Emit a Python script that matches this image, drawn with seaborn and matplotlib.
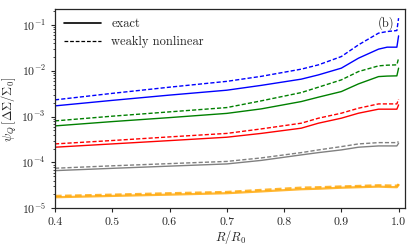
import numpy as np
import pandas as pd
import matplotlib
matplotlib.use("Agg")
import matplotlib.pyplot as plt
import seaborn as sns
from matplotlib.lines import Line2D

sns.set_style("ticks")
plt.rcParams["font.family"] = "serif"
plt.rcParams["font.serif"] = ["cmr10", "DejaVu Serif"]
plt.rcParams["mathtext.fontset"] = "cm"
plt.rcParams["axes.formatter.use_mathtext"] = True
plt.rcParams["axes.unicode_minus"] = False

r = [0.40, 0.50, 0.60, 0.70, 0.76, 0.83, 0.86, 0.90, 0.93, 0.965, 0.98, 0.997, 1.0]

# log10 of psi_Q values
blue_exact = [-2.766, -2.646, -2.531, -2.424, -2.319, -2.183, -2.090, -1.943, -1.725, -1.528, -1.485, -1.485, -1.238]
blue_weak = [-2.635, -2.493, -2.358, -2.231, -2.122, -1.965, -1.871, -1.690, -1.434, -1.179, -1.144, -1.122, -0.852]
green_exact = [-3.203, -3.109, -3.022, -2.930, -2.832, -2.672, -2.576, -2.454, -2.286, -2.127, -2.116, -2.111, -1.943]
green_weak = [-3.094, -2.991, -2.897, -2.803, -2.657, -2.476, -2.358, -2.199, -2.017, -1.893, -1.878, -1.871, -1.725]
red_exact = [-3.668, -3.596, -3.524, -3.450, -3.367, -3.253, -3.144, -3.035, -2.926, -2.838, -2.838, -2.838, -2.745]
red_weak = [-3.596, -3.522, -3.443, -3.367, -3.269, -3.144, -3.035, -2.926, -2.817, -2.723, -2.723, -2.723, -2.620]
grey_exact = [-4.179, -4.129, -4.081, -4.033, -3.956, -3.836, -3.786, -3.727, -3.668, -3.640, -3.640, -3.640, -3.581]
grey_weak = [-4.127, -4.074, -4.026, -3.978, -3.902, -3.786, -3.727, -3.655, -3.596, -3.568, -3.568, -3.568, -3.546]
orange_exact = [-4.760, -4.731, -4.703, -4.672, -4.633, -4.585, -4.574, -4.552, -4.541, -4.528, -4.535, -4.541, -4.491]
orange_weak = [-4.731, -4.703, -4.672, -4.644, -4.600, -4.550, -4.541, -4.524, -4.513, -4.498, -4.502, -4.507, -4.476]

series = [
    ("blue", blue_exact, blue_weak),
    ("green", green_exact, green_weak),
    ("red", red_exact, red_weak),
    ("grey", grey_exact, grey_weak),
    ("orange", orange_exact, orange_weak),
]

fig = plt.figure(figsize=(4.15, 2.5), dpi=100)
ax = fig.add_axes([0.1325, 0.167, 0.8445, 0.796])

for color, ex, wk in series:
    lw = 1.0
    alpha = 1.0
    if color == "orange":
        lw = 1.6
        alpha = 0.8
    sns.lineplot(x=r, y=10 ** np.array(ex), ax=ax, color=color, lw=lw, alpha=alpha)
    sns.lineplot(x=r, y=10 ** np.array(wk), ax=ax, color=color, lw=lw, alpha=alpha,
                 linestyle=(0, (3, 1.5)))

ax.set_yscale("log")
ax.set_xlim(0.4, 1.012)
ax.set_ylim(1e-5, 0.22)
ax.set_xticks([0.4, 0.5, 0.6, 0.7, 0.8, 0.9, 1.0])
ax.set_xticklabels(["0.4", "0.5", "0.6", "0.7", "0.8", "0.9", "1.0"])
ax.tick_params(labelsize=8.5, length=3, width=0.8)
ax.tick_params(which="minor", length=1.5, width=0.6)
ax.set_xlabel(r"$R/R_0$", fontsize=9, labelpad=1)
ax.set_ylabel(r"$\psi_Q\,[\Delta\Sigma/\Sigma_0]$", fontsize=9, labelpad=2)
for s in ax.spines.values():
    s.set_linewidth(0.9)

handles = [Line2D([], [], color="black", lw=1.2),
           Line2D([], [], color="black", lw=0.9, linestyle=(0, (3, 1.5)))]
ax.legend(handles, ["exact", "weakly nonlinear"], loc="upper left", frameon=False,
          fontsize=9, handlelength=3, borderaxespad=0.3, labelspacing=0.5)
ax.text(0.968, 0.93, "(b)", transform=ax.transAxes, ha="right", va="center", fontsize=9)

fig.savefig("out.png", dpi=100)
